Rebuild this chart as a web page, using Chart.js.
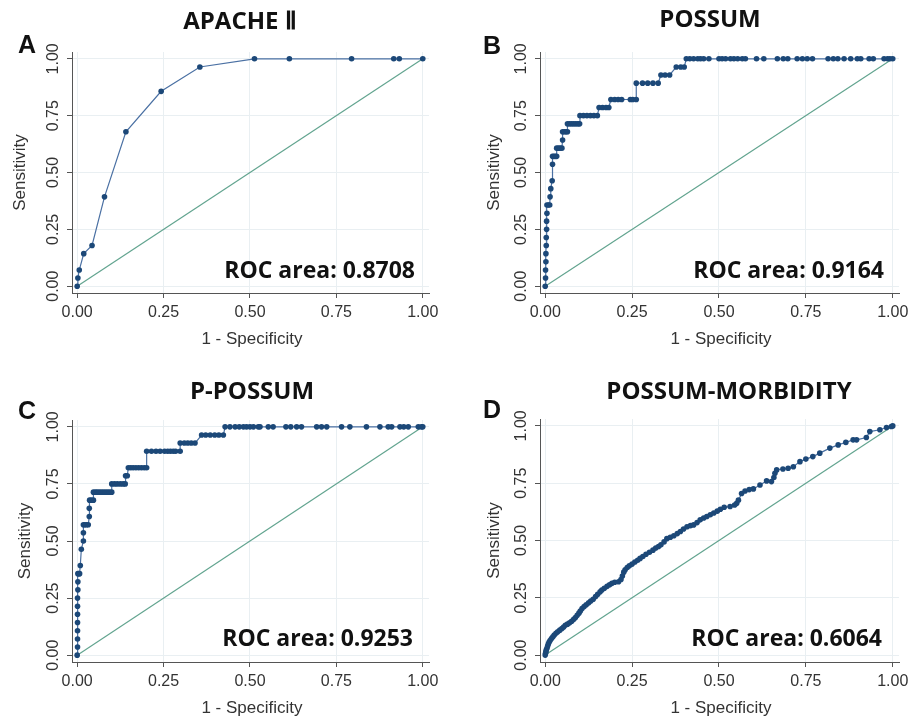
<!DOCTYPE html>
<html>
<head>
	<title>ROC curves</title>
	<script src="https://cdn.jsdelivr.net/npm/chart.js"></script>
	<style>
		body { margin: 0; background: #fff; }
		canvas { position: absolute; }
	</style>
</head>
<body>
	<canvas id="chartA" width="457" height="359" style="left:0;top:0"></canvas>
	<canvas id="chartB" width="457" height="359" style="left:457px;top:0"></canvas>
	<canvas id="chartC" width="457" height="359" style="left:0;top:359px"></canvas>
	<canvas id="chartD" width="457" height="359" style="left:457px;top:359px"></canvas>
	<script>
		// tick marks shared by both axes of every panel
		const tickValues = [0, 0.25, 0.5, 0.75, 1];

		// A: APACHE II
		const apacheFpr = [0, 0.002, 0.006, 0.019, 0.043, 0.079, 0.141, 0.243, 0.355, 0.513, 0.614, 0.794, 0.916, 0.932, 1];
		const apacheTpr = [0, 0.036, 0.071, 0.143, 0.179, 0.393, 0.679, 0.857, 0.964, 1, 1, 1, 1, 1, 1];

		// B: POSSUM
		const possumFpr = [0, 0.001, 0.001, 0.002, 0.002, 0.003, 0.003, 0.004, 0.004, 0.005, 0.005, 0.009, 0.013, 0.014, 0.016, 0.02,
			0.021, 0.021, 0.025, 0.029, 0.033, 0.033, 0.038, 0.043, 0.048, 0.05, 0.05, 0.055, 0.06, 0.064,
			0.064, 0.07, 0.076, 0.082, 0.088, 0.094, 0.099, 0.1, 0.11, 0.12, 0.13, 0.14, 0.15,
			0.155, 0.165, 0.175, 0.183, 0.189, 0.2, 0.21, 0.22, 0.245, 0.252, 0.262,
			0.262, 0.28, 0.295, 0.31, 0.325, 0.333, 0.345, 0.358, 0.377, 0.39, 0.4,
			0.406, 0.416, 0.427, 0.439, 0.447, 0.456, 0.471, 0.5, 0.509, 0.519, 0.533, 0.543, 0.554, 0.567, 0.576,
			0.608, 0.629, 0.668, 0.685, 0.698, 0.725, 0.74, 0.754, 0.769, 0.814, 0.829, 0.842, 0.86, 0.879,
			0.898, 0.908, 0.932, 0.944, 0.975, 0.985, 0.992, 1];
		const possumTpr = [0, 0.036, 0.071, 0.107, 0.143, 0.179, 0.214, 0.25, 0.286, 0.321, 0.357, 0.357, 0.357, 0.393, 0.429, 0.464,
			0.536, 0.571, 0.571, 0.571, 0.571, 0.607, 0.607, 0.607, 0.607, 0.643, 0.679, 0.679, 0.679, 0.679,
			0.714, 0.714, 0.714, 0.714, 0.714, 0.714, 0.714, 0.75, 0.75, 0.75, 0.75, 0.75, 0.75,
			0.786, 0.786, 0.786, 0.786, 0.821, 0.821, 0.821, 0.821, 0.821, 0.821, 0.821,
			0.893, 0.893, 0.893, 0.893, 0.893, 0.929, 0.929, 0.929, 0.964, 0.964, 0.964,
			1, 1, 1, 1, 1, 1, 1, 1, 1, 1, 1, 1, 1, 1, 1,
			1, 1, 1, 1, 1, 1, 1, 1, 1, 1, 1, 1, 1, 1,
			1, 1, 1, 1, 1, 1, 1, 1];

		// C: P-POSSUM
		const ppossumFpr = [0, 0.001, 0.001, 0.001, 0.001, 0.001, 0.001, 0.001, 0.002, 0.002, 0.002, 0.005, 0.007, 0.009, 0.012, 0.018,
			0.018, 0.018, 0.022, 0.027, 0.032, 0.035, 0.035, 0.036, 0.041, 0.047,
			0.047, 0.053, 0.058, 0.064, 0.07, 0.076, 0.082, 0.088, 0.094, 0.1,
			0.1, 0.108, 0.116, 0.125, 0.133, 0.139, 0.14, 0.145,
			0.148, 0.155, 0.162, 0.17, 0.178, 0.186, 0.194, 0.201,
			0.201, 0.215, 0.228, 0.24, 0.253, 0.262, 0.27, 0.278, 0.285, 0.298,
			0.298, 0.31, 0.32, 0.33, 0.341, 0.36, 0.372, 0.385, 0.398, 0.41, 0.423,
			0.428, 0.442, 0.457, 0.469, 0.481, 0.49, 0.5, 0.51, 0.524, 0.529, 0.553, 0.567, 0.604, 0.618, 0.635, 0.649,
			0.693, 0.707, 0.722, 0.765, 0.789, 0.837, 0.876, 0.9, 0.91, 0.934, 0.945, 0.958, 0.987, 0.996, 1];
		const ppossumTpr = [0, 0.036, 0.071, 0.107, 0.143, 0.179, 0.214, 0.25, 0.286, 0.321, 0.357, 0.357, 0.357, 0.393, 0.464, 0.5,
			0.536, 0.571, 0.571, 0.571, 0.571, 0.607, 0.643, 0.679, 0.679, 0.679,
			0.714, 0.714, 0.714, 0.714, 0.714, 0.714, 0.714, 0.714, 0.714, 0.714,
			0.75, 0.75, 0.75, 0.75, 0.75, 0.75, 0.786, 0.786,
			0.821, 0.821, 0.821, 0.821, 0.821, 0.821, 0.821, 0.821,
			0.893, 0.893, 0.893, 0.893, 0.893, 0.893, 0.893, 0.893, 0.893, 0.893,
			0.929, 0.929, 0.929, 0.929, 0.929, 0.964, 0.964, 0.964, 0.964, 0.964, 0.964,
			1, 1, 1, 1, 1, 1, 1, 1, 1, 1, 1, 1, 1, 1, 1, 1,
			1, 1, 1, 1, 1, 1, 1, 1, 1, 1, 1, 1, 1, 1, 1];

		// D: POSSUM-MORBIDITY
		const morbidityFpr = [0, 0.001, 0.002, 0.003, 0.005, 0.007, 0.009, 0.011, 0.014, 0.018, 0.022, 0.026, 0.031, 0.036, 0.042, 0.048,
			0.053, 0.058, 0.064, 0.07, 0.076, 0.082, 0.087, 0.092, 0.097, 0.101, 0.106, 0.112, 0.118, 0.125, 0.131, 0.138,
			0.145, 0.151, 0.158, 0.163, 0.17, 0.178, 0.185, 0.192, 0.2, 0.211, 0.218, 0.222, 0.226, 0.23, 0.236, 0.242,
			0.25, 0.258, 0.266, 0.273, 0.281, 0.29, 0.3, 0.31, 0.318, 0.326, 0.333, 0.342, 0.35, 0.36, 0.37, 0.38,
			0.389, 0.398, 0.408, 0.418, 0.427, 0.437, 0.446, 0.456, 0.465, 0.475, 0.485, 0.495, 0.504, 0.515, 0.532, 0.545,
			0.551, 0.556, 0.565, 0.575, 0.587, 0.599, 0.618, 0.637, 0.651, 0.658, 0.661, 0.666, 0.684, 0.699, 0.714, 0.733,
			0.75, 0.77, 0.79, 0.819, 0.843, 0.865, 0.886, 0.896, 0.924, 0.934, 0.963, 0.982, 0.996, 1];
		const morbidityTpr = [0, 0.008, 0.015, 0.022, 0.03, 0.04, 0.048, 0.056, 0.064, 0.072, 0.08, 0.088, 0.095, 0.102, 0.109, 0.116,
			0.123, 0.13, 0.135, 0.141, 0.148, 0.156, 0.164, 0.174, 0.183, 0.192, 0.203, 0.212, 0.22, 0.228, 0.236, 0.244,
			0.256, 0.265, 0.276, 0.284, 0.292, 0.3, 0.307, 0.313, 0.318, 0.32, 0.33, 0.345, 0.362, 0.372, 0.382, 0.39,
			0.397, 0.406, 0.414, 0.422, 0.43, 0.44, 0.449, 0.458, 0.467, 0.474, 0.481, 0.494, 0.508, 0.514, 0.521, 0.53,
			0.539, 0.55, 0.56, 0.565, 0.568, 0.578, 0.59, 0.598, 0.605, 0.612, 0.62, 0.628, 0.636, 0.645, 0.648, 0.655,
			0.662, 0.676, 0.705, 0.716, 0.722, 0.725, 0.742, 0.76, 0.757, 0.775, 0.793, 0.808, 0.812, 0.815, 0.822, 0.844,
			0.855, 0.866, 0.881, 0.903, 0.917, 0.928, 0.939, 0.939, 0.949, 0.975, 0.983, 0.993, 0.997, 1];

		const textColor = '#333';
		const tickFont = '16px "Liberation Sans", Arial, sans-serif';
		const axisTitleFont = '17px "Liberation Sans", Arial, sans-serif';

		// titles, panel letters, ROC area and the rotated y labels
		const annotate = {
			id: 'annotate',
			afterDraw(chart, args, o) {
				const { ctx, chartArea, scales } = chart;
				const y = scales.y;
				const x = scales.x;
				ctx.save();
				ctx.fillStyle = textColor;
				ctx.font = tickFont;
				ctx.textAlign = 'center';
				ctx.textBaseline = 'middle';
				tickValues.forEach(v => {
					ctx.save();
					ctx.translate(chartArea.left - 18, y.getPixelForValue(v));
					ctx.rotate(-Math.PI / 2);
					ctx.fillText(v.toFixed(2), 0, 0);
					ctx.restore();
				});
				ctx.font = axisTitleFont;
				ctx.save();
				ctx.translate(chartArea.left - o.yTitleGap, (y.getPixelForValue(0) + y.getPixelForValue(1)) / 2);
				ctx.rotate(-Math.PI / 2);
				ctx.fillText('Sensitivity', 0, 0);
				ctx.restore();
				ctx.fillText('1 - Specificity', (x.getPixelForValue(0) + x.getPixelForValue(1)) / 2 + 2, chartArea.bottom + 46);

				ctx.fillStyle = '#111';
				ctx.font = 'bold 24px "Open Sans", sans-serif';
				ctx.fillText(o.title, o.titleX, o.titleY);
				ctx.font = 'bold 25px "Liberation Sans", Arial, sans-serif';
				ctx.fillText(o.letter, o.letterX, o.letterY);
				ctx.font = 'bold 23px "Open Sans", sans-serif';
				ctx.textAlign = 'right';
				ctx.textBaseline = 'alphabetic';
				ctx.fillText('ROC area: ' + o.roc, o.rocRight, o.rocBase);
				ctx.restore();
			}
		};

		function rocChart(id, fpr, tpr, box, notes) {
			const points = fpr.map((v, i) => ({ x: v, y: tpr[i] }));
			return new Chart(document.getElementById(id), {
				type: 'scatter',
				data: {
					datasets: [
						{
							data: points,
							showLine: true,
							borderColor: '#4a70a3',
							borderWidth: 1.2,
							pointBackgroundColor: '#1c4878',
							pointBorderColor: '#1c4878',
							pointRadius: 2.8,
							pointBorderWidth: 0,
							order: 1
						},
						{
							data: [{ x: 0, y: 0 }, { x: 1, y: 1 }],
							showLine: true,
							borderColor: '#62a48f',
							borderWidth: 1.2,
							pointRadius: 0,
							order: 2
						}
					]
				},
				options: {
					responsive: false,
					animation: false,
					layout: { padding: { left: 0, top: box.top, right: 457 - box.right, bottom: 0 } },
					plugins: { legend: { display: false }, tooltip: { enabled: false }, annotate: notes },
					scales: {
						x: {
							type: 'linear', min: -0.015, max: 1.018,
							afterBuildTicks: s => { s.ticks = tickValues.map(v => ({ value: v })); },
							afterFit: s => { s.height = 359 - box.bottom; },
							grid: { color: '#e9eff2', tickColor: '#555', tickLength: 5 },
							border: { color: '#555' },
							ticks: {
								color: textColor, font: { family: '"Liberation Sans", Arial, sans-serif', size: 16 },
								padding: 5, maxRotation: 0, autoSkip: false,
								callback: v => v.toFixed(2)
							}
						},
						y: {
							type: 'linear', min: -0.03, max: 1.03,
							afterBuildTicks: s => { s.ticks = tickValues.map(v => ({ value: v })); },
							afterFit: s => { s.width = box.left; },
							grid: { color: '#e9eff2', tickColor: '#555', tickLength: 5 },
							border: { color: '#555' },
							ticks: { display: false }
						}
					}
				},
				plugins: [annotate]
			});
		}

		rocChart('chartA', apacheFpr, apacheTpr, { left: 72, top: 52, right: 429, bottom: 293 },
			{ title: 'APACHE Ⅱ', titleX: 240, titleY: 22, letter: 'A', letterX: 27, letterY: 46, roc: '0.8708', rocRight: 415, rocBase: 278, yTitleGap: 52 });
		rocChart('chartB', possumFpr, possumTpr, { left: 83, top: 52, right: 442, bottom: 293 },
			{ title: 'POSSUM', titleX: 253, titleY: 20, letter: 'B', letterX: 35, letterY: 47, roc: '0.9164', rocRight: 427, rocBase: 278, yTitleGap: 46 });
		rocChart('chartC', ppossumFpr, ppossumTpr, { left: 72, top: 61, right: 429, bottom: 303 },
			{ title: 'P-POSSUM', titleX: 252, titleY: 33, letter: 'C', letterX: 27, letterY: 53, roc: '0.9253', rocRight: 413, rocBase: 287, yTitleGap: 47 });
		rocChart('chartD', morbidityFpr, morbidityTpr, { left: 83, top: 60, right: 442, bottom: 303 },
			{ title: 'POSSUM-MORBIDITY', titleX: 272, titleY: 33, letter: 'D', letterX: 35, letterY: 52, roc: '0.6064', rocRight: 425, rocBase: 287, yTitleGap: 46 });
	</script>
</body>
</html>
